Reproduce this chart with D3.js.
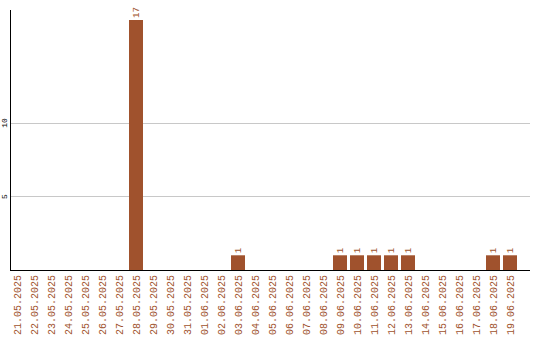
<!DOCTYPE html>
<html>
<head>
<meta charset="utf-8">
<script src="https://cdn.jsdelivr.net/npm/d3@7"></script>
<style>
  body { margin: 0; background: #fff; }
  svg { display: block; }
</style>
</head>
<body>
<div class="chart"></div>
<script>
"use strict";

const dates = [
  "21.05.2025", "22.05.2025", "23.05.2025", "24.05.2025", "25.05.2025",
  "26.05.2025", "27.05.2025", "28.05.2025", "29.05.2025", "30.05.2025",
  "31.05.2025", "01.06.2025", "02.06.2025", "03.06.2025", "04.06.2025",
  "05.06.2025", "06.06.2025", "07.06.2025", "08.06.2025", "09.06.2025",
  "10.06.2025", "11.06.2025", "12.06.2025", "13.06.2025", "14.06.2025",
  "15.06.2025", "16.06.2025", "17.06.2025", "18.06.2025", "19.06.2025"
];
const counts = [
  0, 0, 0, 0, 0, 0, 0, 17, 0, 0,
  0, 0, 0, 1, 0, 0, 0, 0, 0, 1,
  1, 1, 1, 1, 0, 0, 0, 0, 1, 1
];
const yTicks = [5, 10];

const data = dates.map((d, i) => ({ date: d, value: counts[i] }));

const width = 540;
const height = 340;
const plotLeft = 10;
const plotRight = 530;
const plotBottom = 270;
const plotTop = 10;
const barColor = "#a0522d";
const font = "Liberation Mono, DejaVu Sans Mono, monospace";

const svg = d3.select(".chart")
  .append("svg")
    .attr("width", width)
    .attr("height", height);

const xScale = d3.scaleBand()
  .domain(dates)
  .range([8.5, 518.5])
  .paddingInner(3 / 17)
  .paddingOuter(3 / 34);

const yScale = d3.scaleLinear()
  .domain([0, 17])
  .range([plotBottom, 20]);

// grid lines
svg.append("g")
  .selectAll("line")
  .data(yTicks)
  .join("line")
    .attr("x1", plotLeft)
    .attr("x2", plotRight)
    .attr("y1", d => Math.round(yScale(d)) + 0.5)
    .attr("y2", d => Math.round(yScale(d)) + 0.5)
    .attr("stroke", "#c8c8c8")
    .attr("stroke-width", 1);

// y tick labels, rotated
svg.append("g")
  .selectAll("text")
  .data(yTicks)
  .join("text")
    .attr("transform", d => `translate(4, ${yScale(d)}) rotate(-90)`)
    .attr("text-anchor", "middle")
    .attr("dy", "0.35em")
    .attr("font-family", font)
    .attr("font-size", 8)
    .attr("fill", "#000")
    .text(d => d);

// bars
svg.append("g")
  .selectAll("rect")
  .data(data.filter(d => d.value > 0))
  .join("rect")
    .attr("x", d => xScale(d.date))
    .attr("y", d => yScale(d.value))
    .attr("width", xScale.bandwidth())
    .attr("height", d => yScale(0) - yScale(d.value))
    .attr("fill", barColor);

// value labels
svg.append("g")
  .selectAll("text")
  .data(data.filter(d => d.value > 0))
  .join("text")
    .attr("transform", d => `translate(${xScale(d.date) + xScale.bandwidth() / 2}, ${yScale(d.value) - 2}) rotate(-90)`)
    .attr("dy", "0.35em")
    .attr("font-family", font)
    .attr("font-size", 9)
    .attr("fill", barColor)
    .text(d => d.value);

// axes lines
svg.append("line")
  .attr("x1", plotLeft + 0.5)
  .attr("x2", plotLeft + 0.5)
  .attr("y1", plotTop)
  .attr("y2", plotBottom + 1)
  .attr("stroke", "#000");

svg.append("line")
  .attr("x1", plotLeft)
  .attr("x2", plotRight)
  .attr("y1", plotBottom + 0.5)
  .attr("y2", plotBottom + 0.5)
  .attr("stroke", "#000");

// x labels
svg.append("g")
  .selectAll("text")
  .data(dates)
  .join("text")
    .attr("transform", d => `translate(${xScale(d) + xScale.bandwidth() / 2}, 275) rotate(-90)`)
    .attr("text-anchor", "end")
    .attr("dy", "0.35em")
    .attr("font-family", font)
    .attr("font-size", 10)
    .attr("fill", barColor)
    .text(d => d);
</script>
</body>
</html>
